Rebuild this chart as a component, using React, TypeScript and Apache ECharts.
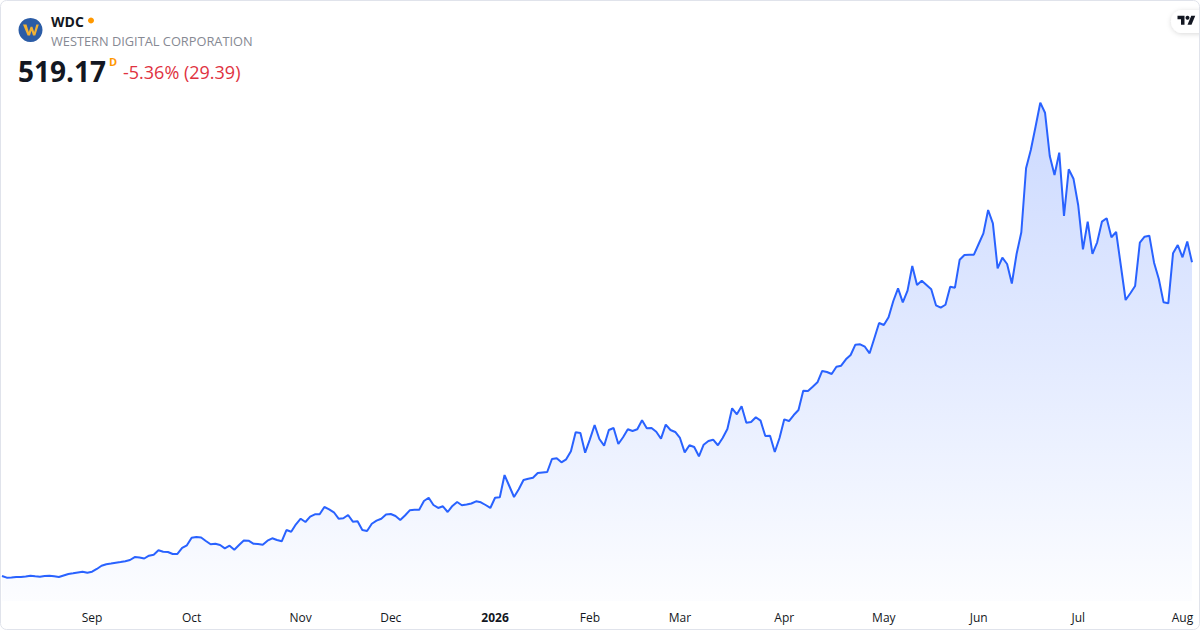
import React, { useEffect, useRef } from "react";
import * as echarts from "echarts";

// ---- data (trading-day closes) ----
const aug2025 = [75.4, 73.0, 73.2, 73.9, 73.9, 74.7, 75.8, 74.9, 74.4, 75.4, 75.8, 74.9, 73.9, 76.1, 78.2, 79.2, 80.3, 81.4, 80.0];
const sep2025 = [81.4, 85.3, 89.9, 91.9, 93.0, 94.2, 95.2, 96.3, 98.0, 102.2, 101.5, 100.1, 104.1, 105.5, 111.7, 109.7, 109.3, 106.5, 106.5, 115.0, 118.8];
const oct2025 = [129.5, 130.5, 129.8, 124.9, 120.2, 121.1, 119.2, 114.5, 118.2, 112.6, 119.2, 125.6, 125.3, 121.1, 120.6, 119.6, 125.3, 128.7, 126.3, 124.5, 140.4, 138.0, 148.5];
const nov2025 = [156.4, 151.8, 159.3, 162.6, 162.6, 173.0, 169.7, 165.5, 156.4, 157.0, 161.7, 152.2, 152.7, 140.4, 139.0, 149.3, 153.6, 156.4, 162.4];
const dec2025 = [163.1, 160.2, 154.6, 161.0, 168.3, 169.0, 169.2, 181.5, 186.1, 175.8, 171.6, 174.0, 165.9, 174.4, 180.0, 175.4, 176.5, 177.9, 181.0, 179.6, 175.8, 171.6];
const jan2026 = [186.1, 186.7, 218.2, 202.7, 187.1, 198.0, 211.2, 213.0, 214.4, 221.1, 221.8, 222.5, 240.9, 241.9, 236.2, 240.4, 251.8, 278.6, 277.6, 249.8];
const feb2026 = [268.7, 289.0, 269.2, 259.7, 281.9, 284.7, 262.1, 271.6, 282.9, 280.5, 282.9, 295.6, 284.3, 284.7, 279.5, 269.6, 289.4, 281.9, 279.1];
const mar2026 = [270.6, 250.3, 260.3, 257.8, 244.7, 261.1, 266.3, 268.2, 260.3, 270.6, 283.3, 312.6, 304.1, 315.4, 292.2, 293.2, 299.9, 295.1, 273.4, 273.8, 250.8, 270.6];
const apr2026 = [297.0, 294.6, 303.1, 310.2, 337.5, 337.1, 343.1, 349.4, 365.4, 363.9, 361.1, 371.4, 372.9, 381.9, 388.0, 402.6, 403.1, 399.7, 390.4, 411.6, 433.3];
const may2026 = [430.4, 441.3, 464.4, 482.3, 462.5, 479.0, 513.9, 487.0, 493.1, 487.0, 480.9, 458.3, 454.9, 459.1, 484.6, 483.2, 522.8, 529.5, 529.9, 529.9];
const jun2026 = [545.0, 560.1, 593.1, 574.3, 510.6, 525.6, 516.7, 489.1, 530.9, 561.6, 652.1, 678.0, 710.9, 744.9, 730.7, 669.5, 642.6, 674.2, 584.6, 650.7, 637.4];
const jul2026 = [599.8, 537.5, 576.6, 530.9, 547.4, 576.6, 581.4, 554.5, 562.0, 513.9, 465.8, 475.3, 485.6, 546.9, 555.3, 556.8, 518.6, 495.5, 462.5, 461.1, 531.9, 543.6];
const aug2026 = [526.2, 548.56, 519.17];

const closes = [
  ...aug2025, ...sep2025, ...oct2025, ...nov2025, ...dec2025, ...jan2026,
  ...feb2026, ...mar2026, ...apr2026, ...may2026, ...jun2026, ...jul2026, ...aug2026,
];

const FIRST_SESSION = "2025-08-05";
const MARKET_HOLIDAYS = [
  "2025-09-01", "2025-11-27", "2025-12-25", "2026-01-01", "2026-01-19",
  "2026-02-16", "2026-04-03", "2026-05-25", "2026-06-19", "2026-07-03",
];
const MONTH_NAMES = ["Jan", "Feb", "Mar", "Apr", "May", "Jun", "Jul", "Aug", "Sep", "Oct", "Nov", "Dec"];

const TICKER = "WDC";
const COMPANY = "WESTERN DIGITAL CORPORATION";
const LAST_PRICE = "519.17";
const CHANGE_TEXT = "-5.36% (29.39)";

function tradingSessions(start: string, count: number): string[] {
  const out: string[] = [];
  const d = new Date(start + "T00:00:00Z");
  while (out.length < count) {
    const dow = d.getUTCDay();
    const s = d.toISOString().slice(0, 10);
    if (dow !== 0 && dow !== 6 && !MARKET_HOLIDAYS.includes(s)) out.push(s);
    d.setUTCDate(d.getUTCDate() + 1);
  }
  return out;
}

const FONT = "'Open Sans', 'Noto Sans', sans-serif";

export default function App() {
  const ref = useRef<HTMLDivElement>(null);

  useEffect(() => {
    document.body.style.margin = "0";
    if (!ref.current) return;
    const chart = echarts.init(ref.current, undefined, { renderer: "svg" });
    const dates = tradingSessions(FIRST_SESSION, closes.length);
    const monthOf = (s: string) => Number(s.slice(5, 7)) - 1;

    const option: any = {
      animation: false,
      backgroundColor: "#ffffff",
      grid: { left: 2, right: 8, top: 80, bottom: 29 },
      xAxis: {
        type: "category",
        data: dates,
        boundaryGap: false,
        axisLine: { show: false },
        axisTick: { show: false },
        splitLine: { show: false },
        axisLabel: {
          interval: (i: number, v: string) => i > 0 && monthOf(v) !== monthOf(dates[i - 1]),
          formatter: (v: string) => {
            const m = monthOf(v);
            return m === 0 ? `{yr|${v.slice(0, 4)}}` : MONTH_NAMES[m];
          },
          color: "#131722",
          fontSize: 12,
          fontFamily: FONT,
          margin: 10,
          hideOverlap: false,
          rich: {
            yr: { fontWeight: "bold", fontSize: 12, fontFamily: FONT, color: "#131722" },
          },
        },
      },
      yAxis: { type: "value", min: 40, max: 777, show: false },
      series: [
        {
          type: "line",
          data: closes,
          symbol: "none",
          showSymbol: false,
          lineStyle: { color: "#2962ff", width: 2 },
          areaStyle: {
            origin: "start",
            color: new echarts.graphic.LinearGradient(0, 0, 0, 1, [
              { offset: 0, color: "rgba(41,98,255,0.34)" },
              { offset: 0.5, color: "rgba(41,98,255,0.19)" },
              { offset: 1, color: "rgba(41,98,255,0.02)" },
            ]),
          },
        },
      ],
      graphic: [
        {
          type: "rect",
          silent: true,
          z: 100,
          shape: { x: 0.5, y: 0.5, width: 1199, height: 629, r: 6 },
          style: { fill: "none", stroke: "#e0e3eb", lineWidth: 1 },
        },
        { type: "circle", shape: { cx: 30.5, cy: 30, r: 12 }, style: { fill: "#2b5ca6" } },
        {
          type: "polygon",
          shape: {
            points: [
              [23, 24.5], [26.5, 24.5], [28.8, 32], [30.6, 26.8], [32.4, 26.8], [34.2, 32],
              [36.3, 24.5], [38.8, 24.5], [35.3, 35.5], [33, 35.5], [31.5, 30.8], [30, 35.5], [27.6, 35.5],
            ],
          },
          style: { fill: "#f2b234" },
        },
        {
          type: "text",
          x: 51, y: 21,
          style: { text: TICKER, fill: "#131722", fontSize: 14, fontWeight: "bold", fontFamily: FONT, verticalAlign: "middle" },
        },
        { type: "circle", shape: { cx: 91, cy: 20.5, r: 3 }, style: { fill: "#ff9800" } },
        {
          type: "text",
          x: 51, y: 40.5,
          style: { text: COMPANY, fill: "#868993", fontSize: 12.8, fontFamily: FONT, verticalAlign: "middle" },
        },
        {
          type: "text",
          x: 18, y: 71,
          style: { text: LAST_PRICE, fill: "#131722", fontSize: 28, fontWeight: "bold", fontFamily: FONT, verticalAlign: "middle" },
        },
        {
          type: "text",
          x: 109, y: 61,
          style: { text: "D", fill: "#ff9800", fontSize: 11, fontWeight: "bold", fontFamily: FONT, verticalAlign: "middle" },
        },
        {
          type: "text",
          x: 123, y: 72,
          style: { text: CHANGE_TEXT, fill: "#e0323f", fontSize: 18, fontFamily: FONT, verticalAlign: "middle" },
        },
        {
          type: "rect",
          shape: { x: 1171, y: 10, width: 40, height: 23, r: 11.5 },
          style: { fill: "#ffffff", shadowBlur: 5, shadowColor: "rgba(0,0,0,0.15)", shadowOffsetY: 1 },
        },
        {
          type: "group",
          x: 1177.5, y: 13.7, scaleX: 0.5, scaleY: 0.5,
          children: [
            { type: "polygon", shape: { points: [[0, 4], [14, 4], [14, 22], [7, 22], [7, 11], [0, 11]] }, style: { fill: "#131722" } },
            { type: "circle", shape: { cx: 20, cy: 8, r: 4 }, style: { fill: "#131722" } },
            { type: "polygon", shape: { points: [[20, 22], [27.5, 4], [35.5, 4], [28, 22]] }, style: { fill: "#131722" } },
          ],
        },
      ],
    };
    chart.setOption(option);
    return () => chart.dispose();
  }, []);

  return <div ref={ref} style={{ width: 1200, height: 630 }} />;
}
